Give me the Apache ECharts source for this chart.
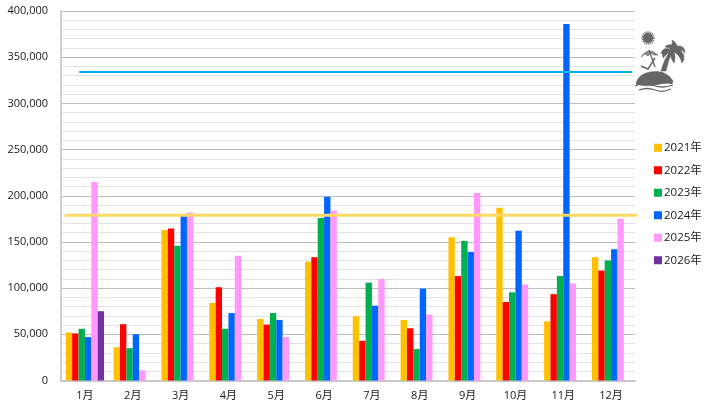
<!DOCTYPE html>
<html>
<head>
<meta charset="utf-8">
<script src="https://cdn.jsdelivr.net/npm/echarts@6/dist/echarts.min.js"></script>
<style>
  html, body { margin: 0; padding: 0; background: #fff; }
  #chart { width: 705px; height: 406px; }
</style>
</head>
<body>
<div id="chart"></div>
<script>
var months = ['1月', '2月', '3月', '4月', '5月', '6月', '7月', '8月', '9月', '10月', '11月', '12月']
var years = ['2021年', '2022年', '2023年', '2024年', '2025年', '2026年']
var y2021 = [52000, 36000, 163000, 84000, 66500, 128500, 69500, 65500, 155000, 187000, 64000, 133500]
var y2022 = [51000, 61000, 164500, 101000, 60500, 133500, 43000, 56500, 113000, 85000, 93500, 119000]
var y2023 = [56000, 35000, 146000, 56000, 73000, 176000, 106000, 34000, 151000, 95500, 113000, 130000]
var y2024 = [47000, 50000, 178000, 73000, 65500, 199000, 81000, 99500, 139000, 162000, 386000, 142000]
var y2025 = [215000, 11000, 182000, 135000, 47000, 184000, 110000, 71500, 203000, 104000, 105000, 175000]
var y2026 = [75000, null, null, null, null, null, null, null, null, null, null, null]
var yearValues = [y2021, y2022, y2023, y2024, y2025, y2026]
var yearColors = ['#FFC000', '#FF0000', '#00B050', '#0066FF', '#FF99FF', '#7030A0']
// the two horizontal lines, x in month units on the hidden value axis
var blueLine = [[0.38, 334000], [11.94, 334000]]
var yellowLine = [[0.08, 179000], [12.08, 179000]]

var font = '"Open Sans", "Noto Sans CJK JP", sans-serif'

// island picture in the top right corner
var islandSvg = '<svg xmlns="http://www.w3.org/2000/svg" width="60" height="75" viewBox="0 0 60 75">' +
  '<g fill="#666" stroke="#666" stroke-width="0.6">' +
  '<circle cx="18" cy="13" r="5"/>' +
  '<circle cx="18" cy="13" r="6" fill="none" stroke-width="1.6" stroke-dasharray="1 1"/>' +
  // umbrella, pole and chair
  '<path d="M11 32 Q18 21 28 30 L24 30 L21 28 L18 31 L15 29 Z" fill="#888"/>' +
  '<path d="M19 25 L25 42 M11 41 L18 44 L25 33" fill="none" stroke-width="1.4"/>' +
  // palm
  '<path d="M31 46 Q34 34 41 25 L43 26 Q38 35 36 46 Z"/>' +
  '<path d="M41 25 Q34 21 31 28 Q33 29 33 33 Q37 28 41 27 Q40 33 44 38 Q46 32 44 27 Q50 30 52 38 Q57 31 50 25 Q53 25 55 28 Q55 20 47 21 Q46 17 42 15 Q43 19 41 20 Q37 19 35 22 Q39 22 41 25 Z"/>' +
  // island and waves
  '<path d="M6 59 Q8 49 20 47 Q36 44 43 56 L42 59 Q36 57 26 60 Q14 62 6 59 Z"/>' +
  '<path d="M5 61 Q13 57 22 60 Q32 64 43 60 M9 65 Q17 62 25 65 Q33 68 41 64" fill="none" stroke-width="1.3"/>' +
  '</g></svg>'

var myChart = echarts.init(document.getElementById('chart'))

var series = years.map(function (name, i) {
  return {
    name: name,
    type: 'bar',
    barGap: 0,
    barCategoryGap: '20%',
    itemStyle: { color: yearColors[i] },
    data: yearValues[i]
  }
})

function flatLine(data, color, width) {
  return {
    type: 'line',
    xAxisIndex: 1,
    symbol: 'none',
    clip: false,
    z: 5,
    silent: true,
    lineStyle: { color: color, width: width },
    data: data
  }
}
series.push(flatLine(blueLine, '#00B0F0', 2))
series.push(flatLine(yellowLine, '#FFD966', 3))

var option = {
  animation: false,
  textStyle: { fontFamily: font },
  grid: { left: 61, right: 70, top: 11, bottom: 25.5 },
  legend: {
    data: years,
    orient: 'vertical',
    left: 649,
    top: 137,
    itemWidth: 8,
    itemHeight: 8,
    itemGap: 11,
    icon: 'rect',
    textStyle: { color: '#1a1a1a', fontSize: 11.5, fontFamily: font, padding: [0, 0, 0, -3] }
  },
  xAxis: [
    {
      type: 'category',
      data: months,
      axisLine: { lineStyle: { color: '#c8c8c8', width: 2 } },
      axisTick: { show: false },
      axisLabel: { color: '#1a1a1a', fontSize: 11, margin: 10 }
    },
    { type: 'value', show: false, min: 0, max: 12 }
  ],
  yAxis: {
    type: 'value',
    min: 0,
    max: 400000,
    interval: 50000,
    minorTick: { show: false, splitNumber: 5 },
    axisLine: { show: true, lineStyle: { color: '#d0d0d0', width: 2 } },
    axisTick: { show: false },
    axisLabel: {
      color: '#1a1a1a',
      fontSize: 11,
      margin: 13,
      formatter: function (v) { return v.toLocaleString('en-US') }
    },
    splitLine: { show: true, lineStyle: { color: '#bdbdbd', width: 1 } },
    minorSplitLine: { show: true, lineStyle: { color: '#e2e2e2', width: 1 } }
  },
  graphic: [
    {
      type: 'image',
      left: 630,
      top: 25,
      style: { image: 'data:image/svg+xml,' + encodeURIComponent(islandSvg), width: 60, height: 75 }
    }
  ],
  series: series
}

option && myChart.setOption(option)
</script>
</body>
</html>
